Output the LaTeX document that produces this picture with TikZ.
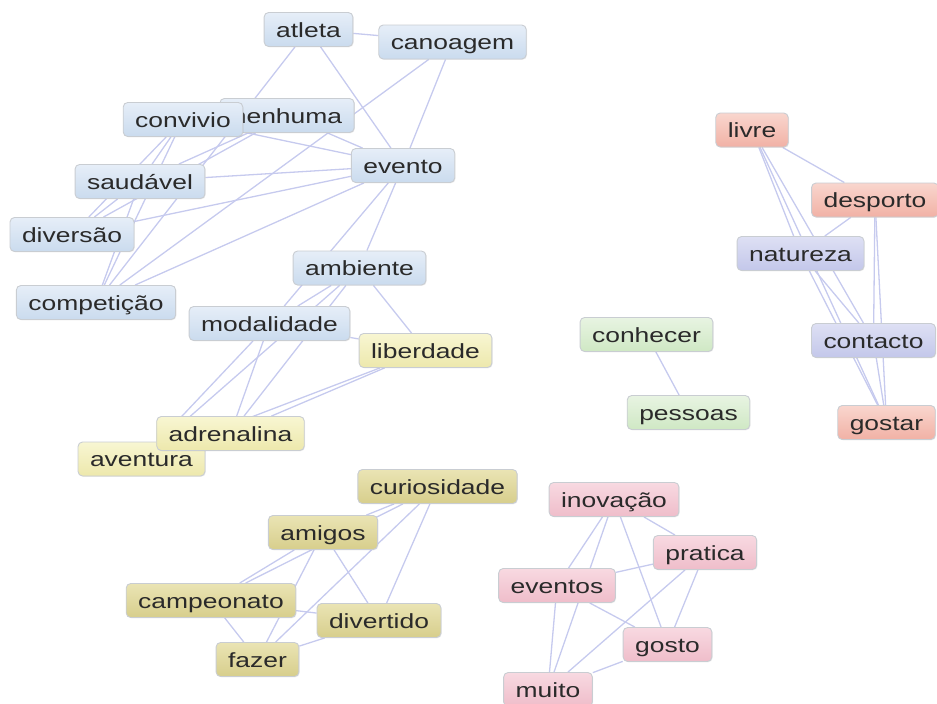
\documentclass[tikz,border=0pt]{standalone}
\usepackage{fontspec}
\setmainfont{Liberation Sans}[FakeStretch=1.29]
\usetikzlibrary{backgrounds,shadows}
\definecolor{txt}{HTML}{2A2A2A}
\definecolor{edgec}{HTML}{C6CAEE}
\definecolor{bdr}{HTML}{C9CDD2}
\definecolor{blueT}{HTML}{E6EEF8}\definecolor{blueB}{HTML}{CADBEE}
\definecolor{yelT}{HTML}{F8F6D2}\definecolor{yelB}{HTML}{EDE8AC}
\definecolor{oliT}{HTML}{EAE4B4}\definecolor{oliB}{HTML}{D7CE8C}
\definecolor{pinkT}{HTML}{F8D9E1}\definecolor{pinkB}{HTML}{EFBDCA}
\definecolor{salT}{HTML}{F9D6CE}\definecolor{salB}{HTML}{F1B1A5}
\definecolor{lavT}{HTML}{DEE0F4}\definecolor{lavB}{HTML}{C3C7EA}
\definecolor{grnT}{HTML}{E8F4E2}\definecolor{grnB}{HTML}{CFE8C4}
\begin{document}
\begin{tikzpicture}[x=1pt,y=-1pt,
  word/.style={rounded corners=4.5pt, inner xsep=12pt, inner ysep=7.5pt,
    text height=17pt, text depth=2pt, font=\fontsize{20.5}{24}\selectfont,
    text=txt, draw=bdr, line width=0.9pt,
    drop shadow={shadow xshift=0.8pt, shadow yshift=-0.8pt, opacity=0.15}},
  blueN/.style={word, top color=blueT, bottom color=blueB},
  yelN/.style={word, top color=yelT, bottom color=yelB},
  oliN/.style={word, top color=oliT, bottom color=oliB},
  pinkN/.style={word, top color=pinkT, bottom color=pinkB},
  salN/.style={word, top color=salT, bottom color=salB},
  lavN/.style={word, top color=lavT, bottom color=lavB},
  grnN/.style={word, top color=grnT, bottom color=grnB},
  link/.style={draw=edgec, line width=1.3pt}]
\useasboundingbox (0,0) rectangle (937,704);
% blue cluster
\node[blueN] (atleta) at (308.5,29.5) {atleta};
\node[blueN] (canoagem) at (452.5,42) {canoagem};
\node[blueN] (nenhuma) at (287,115.5) {nenhuma};
\node[blueN] (convivio) at (183,119.5) {convivio};
\node[blueN] (evento) at (403,165.5) {evento};
\node[blueN] (saudavel) at (140,181.5) {saudável};
\node[blueN] (diversao) at (72,234.5) {diversão};
\node[blueN] (competicao) at (96,302.5) {competição};
\node[blueN] (ambiente) at (359.5,268) {ambiente};
\node[blueN] (modalidade) at (269.5,323.5) {modalidade};
% yellow
\node[yelN] (liberdade) at (425.5,350.5) {liberdade};
\node[yelN] (aventura) at (141.5,459) {aventura};
\node[yelN] (adrenalina) at (230.5,433.5) {adrenalina};
% olive
\node[oliN] (curiosidade) at (437.5,486.5) {curiosidade};
\node[oliN] (amigos) at (323,532.5) {amigos};
\node[oliN] (campeonato) at (211,600.5) {campeonato};
\node[oliN] (divertido) at (379,620.5) {divertido};
\node[oliN] (fazer) at (257.5,659.5) {fazer};
% pink
\node[pinkN] (inovacao) at (614,499.5) {inovação};
\node[pinkN] (pratica) at (705,552.5) {pratica};
\node[pinkN] (eventos) at (557,585.5) {eventos};
\node[pinkN] (gosto) at (667.5,644.5) {gosto};
\node[pinkN] (muito) at (548,689.5) {muito};
% right cluster
\node[salN] (livre) at (752,130) {livre};
\node[salN] (desporto) at (875,200) {desporto};
\node[lavN] (natureza) at (800.5,253.5) {natureza};
\node[lavN] (contacto) at (873.5,340.5) {contacto};
\node[salN] (gostar) at (886.5,422.5) {gostar};
% green
\node[grnN] (conhecer) at (646.5,334.5) {conhecer};
\node[grnN] (pessoas) at (688.5,412.5) {pessoas};
\begin{scope}[on background layer]
\foreach \a/\b in {atleta/canoagem, atleta/competicao, atleta/evento,
  canoagem/competicao, canoagem/evento, nenhuma/evento, convivio/evento,
  saudavel/evento, diversao/evento, competicao/evento, evento/ambiente,
  evento/modalidade, convivio/saudavel, convivio/diversao, convivio/competicao,
  nenhuma/saudavel, nenhuma/diversao, saudavel/diversao, saudavel/competicao,
  ambiente/modalidade, ambiente/liberdade, ambiente/adrenalina, ambiente/aventura,
  modalidade/adrenalina, modalidade/aventura, modalidade/liberdade,
  liberdade/adrenalina, liberdade/aventura,
  curiosidade/amigos, curiosidade/campeonato, curiosidade/fazer,
  curiosidade/divertido, amigos/divertido, amigos/fazer, amigos/campeonato,
  campeonato/fazer, campeonato/divertido, fazer/divertido,
  inovacao/pratica, inovacao/eventos, inovacao/muito, inovacao/gosto,
  eventos/pratica, pratica/muito, pratica/gosto, eventos/gosto, eventos/muito,
  gosto/muito,
  livre/desporto, livre/natureza, livre/contacto, livre/gostar,
  desporto/natureza, desporto/contacto, desporto/gostar,
  natureza/contacto, natureza/gostar, contacto/gostar,
  conhecer/pessoas}
  \draw[link] (\a) -- (\b);
\end{scope}
\end{tikzpicture}
\end{document}
